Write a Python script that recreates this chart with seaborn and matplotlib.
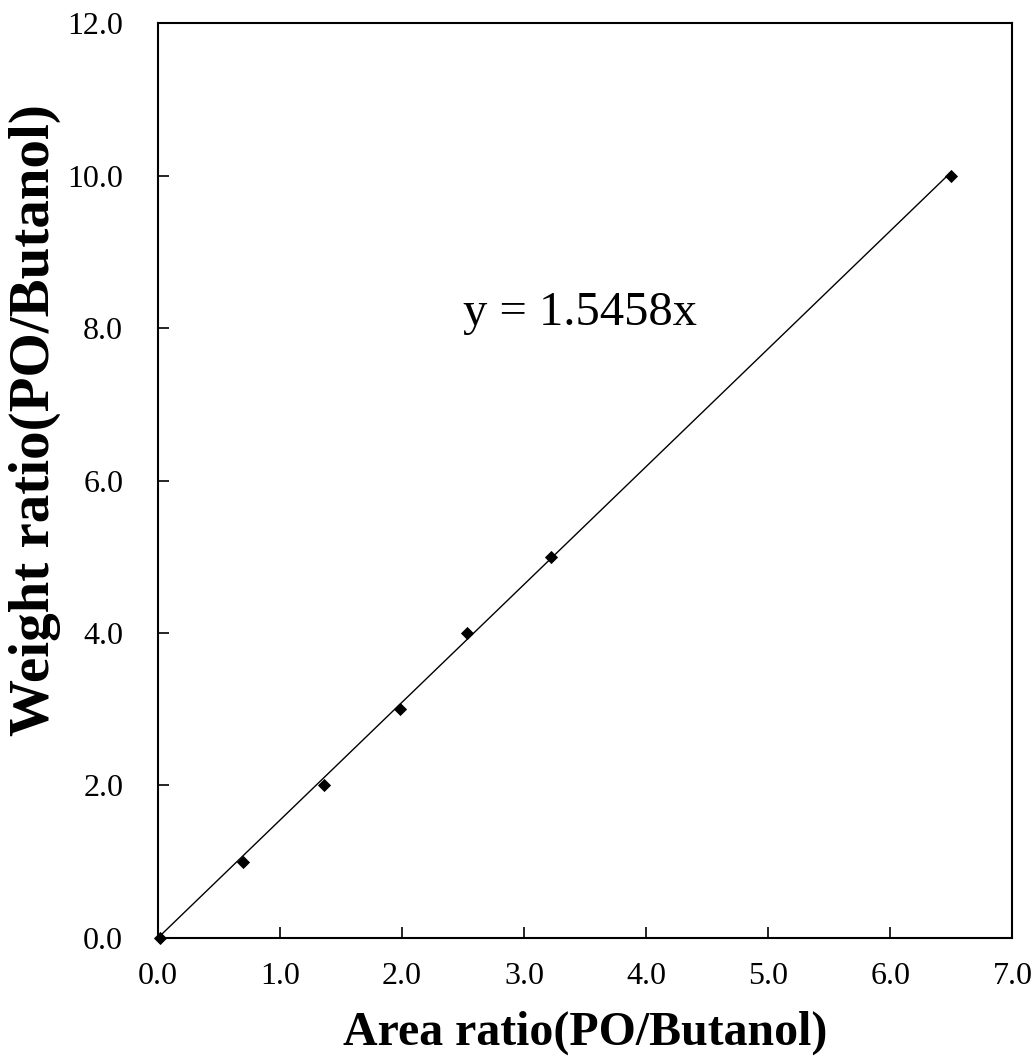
import numpy as np
import pandas as pd
import matplotlib
matplotlib.use("Agg")
import matplotlib.pyplot as plt
import seaborn as sns

# Calibration data
area_ratio = [0.02, 0.70, 1.36, 1.98, 2.53, 3.22, 6.50]
weight_ratio = [0.0, 1.0, 2.0, 3.0, 4.0, 5.0, 10.0]
slope = 1.5458
x_ticks = [0.0, 1.0, 2.0, 3.0, 4.0, 5.0, 6.0, 7.0]
y_ticks = [0.0, 2.0, 4.0, 6.0, 8.0, 10.0, 12.0]

sns.set_style("white", {"text.color": "black", "axes.labelcolor": "black",
                        "xtick.color": "black", "ytick.color": "black",
                        "axes.edgecolor": "black"})
plt.rcParams["font.family"] = ["Liberation Serif", "DejaVu Serif"]

df = pd.DataFrame({"area": area_ratio, "weight": weight_ratio})
fit = pd.DataFrame({"area": [0.0, max(area_ratio)]})
fit["weight"] = slope * fit["area"]

fig = plt.figure(figsize=(10.32, 10.62), dpi=100)
ax = fig.add_axes([0.153, 0.1168, 0.828, 0.8615])

sns.lineplot(data=fit, x="area", y="weight", color="black", linewidth=1.0, ax=ax)
sns.scatterplot(data=df, x="area", y="weight", marker="D", color="black",
                s=45, edgecolor="black", linewidth=0, ax=ax, zorder=3, clip_on=False)

ax.set_xlim(0, 7)
ax.set_ylim(0, 12)
ax.set_xticks(x_ticks)
ax.set_yticks(y_ticks)
ax.set_xticklabels([f"{v:.1f}" for v in x_ticks], fontsize=23)
ax.set_yticklabels([f"{v:.1f}" for v in y_ticks], fontsize=23)
ax.tick_params(direction="in", length=8, width=1.2, bottom=True, left=True,
               colors="black")
ax.tick_params(axis="x", pad=17)
ax.tick_params(axis="y", pad=25)
for sp in ax.spines.values():
    sp.set_linewidth(1.5)
    sp.set_color("black")

ax.set_xlabel("Area ratio(PO/Butanol)", fontsize=34.5, fontweight="bold")
ax.set_ylabel("Weight ratio(PO/Butanol)", fontsize=41, fontweight="bold")
ax.xaxis.set_label_coords(0.5, -0.079)
ax.yaxis.set_label_coords(-0.113, 0.566)

ax.text(2.50, 8.04, f"y = {slope:.4f}x", fontsize=35, ha="left", va="baseline")

fig.savefig("out.png", dpi=100)
